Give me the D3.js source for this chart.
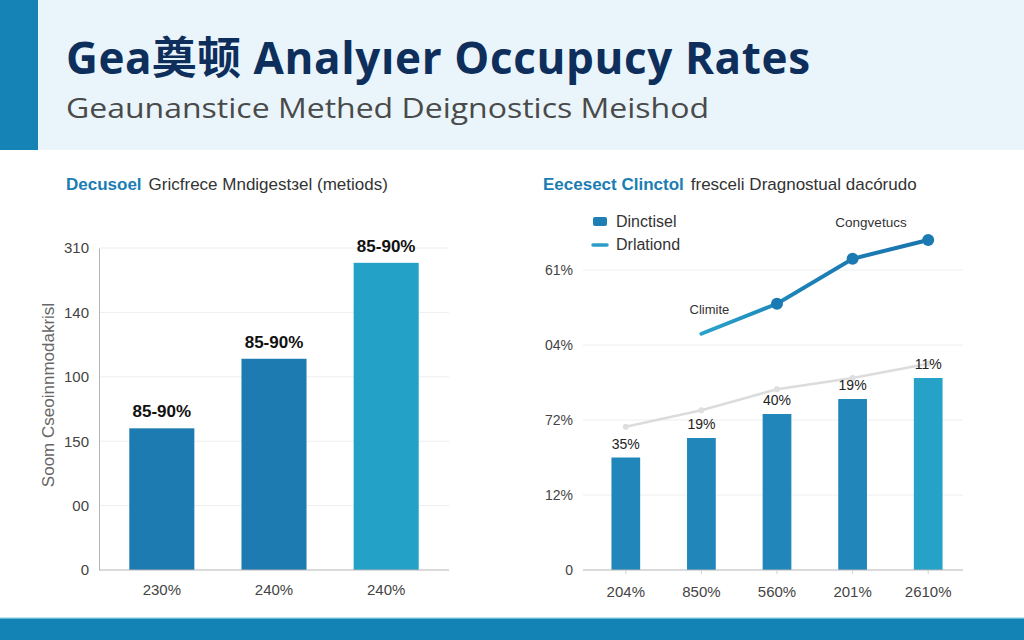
<!DOCTYPE html>
<html>
<head>
<meta charset="utf-8">
<script src="https://cdn.jsdelivr.net/npm/d3@7"></script>
<style>
  body { margin: 0; background: #fff; }
  svg { display: block; }
  text { font-family: "Liberation Sans", Arial, sans-serif; }
</style>
</head>
<body>
<div id="chart"></div>
<script>
// left chart data
const leftCats = ['a', 'b', 'c']
const leftXLabels = ['230%', '240%', '240%']
const leftValues = [2.2, 3.28, 4.77]
const leftBarLabels = ['85-90%', '85-90%', '85-90%']
const leftTicks = [0, 1, 2, 3, 4, 5]
const leftTickLabels = ['0', '00', '150', '100', '140', '310']

// right chart data
const rightCats = ['a', 'b', 'c', 'd', 'e']
const rightXLabels = ['204%', '850%', '560%', '201%', '2610%']
const rightBars = [1.5, 1.76, 2.08, 2.28, 2.56]
const rightBarLabels = ['35%', '19%', '40%', '19%', '11%']
const grayLine = [1.91, 2.13, 2.41, 2.56, 2.75]
const blueCats = ['b', 'c', 'd', 'e']
const blueLine = [3.15, 3.55, 4.15, 4.4]
const rightTicks = [0, 1, 2, 3, 4]
const rightTickLabels = ['0', '12%', '72%', '04%', '61%']

const W = 1024
const H = 640

const svg = d3.select('#chart').append('svg').attr('width', W).attr('height', H)

// header
svg.append('rect').attr('x', 0).attr('y', 0).attr('width', W).attr('height', 150).attr('fill', '#e9f5fb')
svg.append('rect').attr('x', 0).attr('y', 0).attr('width', 38).attr('height', 150).attr('fill', '#1583b5')
svg.append('text').attr('x', 66).attr('y', 74)
  .style('font-family', '"Open Sans", "Noto Sans CJK SC", sans-serif')
  .style('font-weight', 700).style('font-size', '44px').attr('fill', '#0e2e5c')
  .attr('textLength', 744).attr('lengthAdjust', 'spacing')
  .text('Gea奠顿 Analyıer Occupucy Rates')
svg.append('text').attr('x', 66).attr('y', 118)
  .style('font-family', '"Open Sans", sans-serif')
  .style('font-size', '28px').attr('fill', '#4a4a4a')
  .attr('textLength', 643).attr('lengthAdjust', 'spacingAndGlyphs')
  .text('Geaunanstice Methed Deignostics Meishod')

// footer bar
svg.append('rect').attr('x', 0).attr('y', 618).attr('width', W).attr('height', 22).attr('fill', '#1283b4')
svg.append('rect').attr('x', 0).attr('y', 617).attr('width', W).attr('height', 1.5).attr('fill', '#bfe6f3')

function chartTitle(x, blue, rest) {
  const t = svg.append('text').attr('x', x).attr('y', 190).style('font-size', '17px')
  t.append('tspan').attr('fill', '#1b7db4').style('font-weight', 700).text(blue)
  t.append('tspan').attr('fill', '#333').attr('dx', 7).text(rest)
}

// ---- left chart ----
chartTitle(66, 'Decusoel', 'Gricfrece Mndigestзel (metiods)')

const lx = d3.scaleBand().domain(leftCats).range([99, 449]).paddingInner(0.42).paddingOuter(0.27)
const ly = d3.scaleLinear().domain([0, 5]).range([570, 248])

const lg = svg.append('g')
lg.selectAll('line.grid').data(leftTicks.slice(1)).enter().append('line')
  .attr('x1', 99).attr('x2', 449).attr('y1', (d) => ly(d)).attr('y2', (d) => ly(d))
  .attr('stroke', '#eeeeee')

lg.append('g').attr('transform', 'translate(99,0)')
  .call(d3.axisLeft(ly).tickValues(leftTicks).tickSize(0).tickPadding(10).tickFormat((d, i) => leftTickLabels[i]))
  .call((g) => g.select('.domain').attr('stroke', '#b5b5b5'))
  .call((g) => g.selectAll('text').style('font-size', '15px').attr('fill', '#444').style('font-family', '"Liberation Sans", Arial, sans-serif'))

lg.selectAll('rect.bar').data(leftValues).enter().append('rect')
  .attr('x', (d, i) => lx(leftCats[i])).attr('width', lx.bandwidth())
  .attr('y', (d) => ly(d)).attr('height', (d) => ly(0) - ly(d))
  .attr('fill', (d, i) => (i === 2 ? '#24a1c6' : '#1e7bb2'))

lg.selectAll('text.bl').data(leftValues).enter().append('text')
  .attr('x', (d, i) => lx(leftCats[i]) + lx.bandwidth() / 2).attr('y', (d) => ly(d) - 11)
  .attr('text-anchor', 'middle').style('font-size', '17px').style('font-weight', 700).attr('fill', '#111')
  .text((d, i) => leftBarLabels[i])

lg.append('g').attr('transform', 'translate(0,570)')
  .call(d3.axisBottom(lx).tickSize(0).tickPadding(14).tickFormat((d, i) => leftXLabels[i]))
  .call((g) => g.select('.domain').attr('stroke', '#b5b5b5').attr('d', 'M99,0H449'))
  .call((g) => g.selectAll('text').style('font-size', '15px').attr('fill', '#444').style('font-family', '"Liberation Sans", Arial, sans-serif'))

lg.append('text').attr('transform', 'translate(54,395) rotate(-90)')
  .attr('text-anchor', 'middle').style('font-size', '17px').attr('fill', '#666')
  .text('Soom Cseoinnmodakrisl')

// ---- right chart ----
chartTitle(543, 'Eecesect Clinctol', 'fresceli  Dragnostual dacórudo')

const rx = d3.scaleBand().domain(rightCats).range([588, 966]).paddingInner(0.62).paddingOuter(0.31)
const ry = d3.scaleLinear().domain([0, 4]).range([570, 270])
const cx = (c) => rx(c) + rx.bandwidth() / 2

const rg = svg.append('g')
rg.selectAll('line.grid').data(rightTicks.slice(1)).enter().append('line')
  .attr('x1', 583).attr('x2', 963).attr('y1', (d) => ry(d)).attr('y2', (d) => ry(d))
  .attr('stroke', '#eeeeee')

rg.append('g').attr('transform', 'translate(583,0)')
  .call(d3.axisLeft(ry).tickValues(rightTicks).tickSize(0).tickPadding(10).tickFormat((d, i) => rightTickLabels[i]))
  .call((g) => g.select('.domain').remove())
  .call((g) => g.selectAll('text').style('font-size', '14px').attr('fill', '#444').style('font-family', '"Liberation Sans", Arial, sans-serif'))

rg.selectAll('rect.bar').data(rightBars).enter().append('rect')
  .attr('x', (d, i) => rx(rightCats[i])).attr('width', rx.bandwidth())
  .attr('y', (d) => ry(d)).attr('height', (d) => ry(0) - ry(d))
  .attr('fill', (d, i) => (i === 4 ? '#26a2c9' : '#2187bb'))

rg.append('g').attr('transform', 'translate(0,570)')
  .call(d3.axisBottom(rx).tickSize(4).tickPadding(12).tickFormat((d, i) => rightXLabels[i]))
  .call((g) => g.select('.domain').attr('stroke', '#b5b5b5').attr('d', 'M583,0H963'))
  .call((g) => g.selectAll('line').attr('stroke', '#d0d0d0'))
  .call((g) => g.selectAll('text').style('font-size', '15px').attr('fill', '#444').style('font-family', '"Liberation Sans", Arial, sans-serif'))

// gray line
const grayPath = d3.line().x((d, i) => cx(rightCats[i])).y((d) => ry(d))
rg.append('path').datum(grayLine).attr('d', grayPath)
  .attr('fill', 'none').attr('stroke', '#dcdcdc').attr('stroke-width', 2.5)
rg.selectAll('circle.gp').data(grayLine).enter().append('circle')
  .attr('cx', (d, i) => cx(rightCats[i])).attr('cy', (d) => ry(d)).attr('r', 3).attr('fill', '#dedede')

rg.selectAll('text.bl').data(rightBars).enter().append('text')
  .attr('x', (d, i) => cx(rightCats[i])).attr('y', (d) => ry(d) - 9)
  .attr('text-anchor', 'middle').style('font-size', '14px').attr('fill', '#222')
  .text((d, i) => rightBarLabels[i])

// blue line
const grad = svg.append('defs').append('linearGradient').attr('id', 'blueGrad')
  .attr('gradientUnits', 'userSpaceOnUse').attr('x1', cx('b')).attr('x2', cx('e')).attr('y1', 0).attr('y2', 0)
grad.append('stop').attr('offset', '0%').attr('stop-color', '#2aa3cb')
grad.append('stop').attr('offset', '45%').attr('stop-color', '#1c80b6')
grad.append('stop').attr('offset', '100%').attr('stop-color', '#1b74ad')

const bluePath = d3.line().x((d, i) => cx(blueCats[i])).y((d) => ry(d))
rg.append('path').datum(blueLine).attr('d', bluePath)
  .attr('fill', 'none').attr('stroke', 'url(#blueGrad)').attr('stroke-width', 4).attr('stroke-linecap', 'round')
rg.selectAll('circle.bp').data(blueLine.slice(1)).enter().append('circle')
  .attr('cx', (d, i) => cx(blueCats[i + 1])).attr('cy', (d) => ry(d)).attr('r', 6).attr('fill', '#1b7ab2')

rg.append('text').attr('x', cx('b') + 8).attr('y', ry(blueLine[0]) - 20)
  .attr('text-anchor', 'middle').style('font-size', '13px').attr('fill', '#333').text('Climite')
rg.append('text').attr('x', 871).attr('y', 227)
  .attr('text-anchor', 'middle').style('font-size', '13.5px').attr('fill', '#333').text('Congvetucs')

// legend
rg.append('rect').attr('x', 593).attr('y', 217).attr('width', 14).attr('height', 9).attr('rx', 2).attr('fill', '#1f7fb5')
rg.append('line').attr('x1', 593).attr('x2', 607).attr('y1', 245).attr('y2', 245)
  .attr('stroke', '#2a9cc8').attr('stroke-width', 3.5).attr('stroke-linecap', 'round')
rg.append('text').attr('x', 616).attr('y', 227).style('font-size', '16px').attr('fill', '#333').text('Dinctisel')
rg.append('text').attr('x', 616).attr('y', 250).style('font-size', '16px').attr('fill', '#333').text('Drlationd')
</script>
</body>
</html>
